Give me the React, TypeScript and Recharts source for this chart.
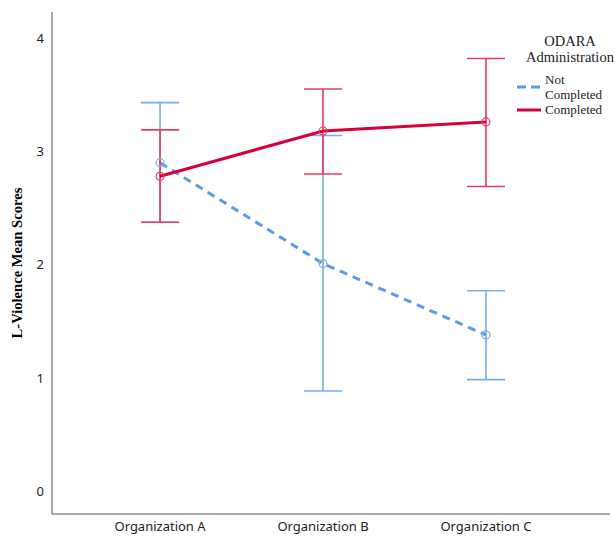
import { ErrorBar, Line, LineChart, XAxis, YAxis } from "recharts";

const organizations = ["Organization A", "Organization B", "Organization C"];

const notCompletedMean = [2.9, 2.01, 1.38];
const notCompletedLow = [2.375, 0.886, 0.986];
const notCompletedHigh = [3.43, 3.14, 1.77];

const completedMean = [2.78, 3.18, 3.26];
const completedLow = [2.375, 2.8, 2.69];
const completedHigh = [3.19, 3.55, 3.82];

const yTicks = [0, 1, 2, 3, 4];

const BLUE = "#5b9be6";
const BLUE_BAR = "#76aeea";
const RED = "#d6003c";
const RED_BAR = "#e23c5e";

const data = organizations.map((name, i) => ({
  idx: i,
  name,
  notCompleted: notCompletedMean[i],
  notCompletedErr: [notCompletedMean[i] - notCompletedLow[i], notCompletedHigh[i] - notCompletedMean[i]],
  completed: completedMean[i],
  completedErr: [completedMean[i] - completedLow[i], completedHigh[i] - completedMean[i]],
}));

const serif = "'Liberation Serif', 'Times New Roman', serif";
const sans = "'Noto Sans', 'Open Sans', sans-serif";

// legend drawn as an overlay so it doesn't shrink the plot area
function LegendBox() {
  return (
    <div
      style={{
        position: "absolute",
        left: 515,
        top: 33,
        width: 102,
        fontFamily: serif,
        fontSize: 14.5,
        color: "#222",
        lineHeight: "16px",
      }}
    >
      <div style={{ textAlign: "center", paddingLeft: 8 }}>ODARA</div>
      <div style={{ textAlign: "center", paddingLeft: 8 }}>Administration</div>
      <div style={{ display: "flex", alignItems: "center", marginTop: 7, fontSize: 13, lineHeight: "15px" }}>
        <svg width={28} height={10} style={{ flex: "none" }}>
          <line x1={2} y1={5} x2={26} y2={5} stroke={BLUE} strokeWidth={3} strokeDasharray="9 5" />
        </svg>
        <div style={{ marginLeft: 2 }}>
          Not
          <br />
          Completed
        </div>
      </div>
      <div style={{ display: "flex", alignItems: "center", fontSize: 13, lineHeight: "15px" }}>
        <svg width={28} height={10} style={{ flex: "none" }}>
          <line x1={2} y1={5} x2={26} y2={5} stroke={RED} strokeWidth={3} />
        </svg>
        <div style={{ marginLeft: 2 }}>Completed</div>
      </div>
    </div>
  );
}

export default function App() {
  return (
    <div style={{ position: "absolute", left: 0, top: 0, width: 615, height: 536, background: "#fff" }}>
      <LineChart width={615} height={536} data={data} margin={{ top: 12, right: 5, left: 0, bottom: 0 }}>
        <XAxis
          dataKey="idx"
          type="number"
          domain={[-0.663, 2.761]}
          allowDataOverflow
          ticks={[0, 1, 2]}
          tickFormatter={(v: number) => organizations[v] ?? ""}
          tickLine={false}
          axisLine={{ stroke: "#555" }}
          height={22}
          tick={{ fontSize: 13, fill: "#222", fontFamily: sans }}
        />
        <YAxis
          type="number"
          domain={[-0.2, 4.23]}
          allowDataOverflow
          ticks={yTicks}
          tickLine={false}
          axisLine={{ stroke: "#555" }}
          width={52}
          tick={{ fontSize: 13, fill: "#222", fontFamily: sans }}
          label={{
            value: "L-Violence Mean Scores",
            angle: -90,
            position: "insideLeft",
            dx: 12,
            style: { fontFamily: serif, fontWeight: "bold", fontSize: 14.6, fill: "#000", textAnchor: "middle" },
          }}
        />
        <Line
          dataKey="notCompleted"
          stroke={BLUE}
          strokeWidth={3}
          strokeDasharray="8 6"
          dot={{ r: 4, stroke: BLUE_BAR, strokeWidth: 1.2, fill: "none", strokeDasharray: "" }}
          isAnimationActive={false}
        >
          <ErrorBar dataKey="notCompletedErr" direction="y" width={19} stroke={BLUE_BAR} strokeWidth={1.6} />
        </Line>
        <Line
          dataKey="completed"
          stroke={RED}
          strokeWidth={3}
          dot={{ r: 4, stroke: RED_BAR, strokeWidth: 1.2, fill: "none" }}
          isAnimationActive={false}
        >
          <ErrorBar dataKey="completedErr" direction="y" width={19} stroke={RED_BAR} strokeWidth={1.6} />
        </Line>
      </LineChart>
      <LegendBox />
    </div>
  );
}
